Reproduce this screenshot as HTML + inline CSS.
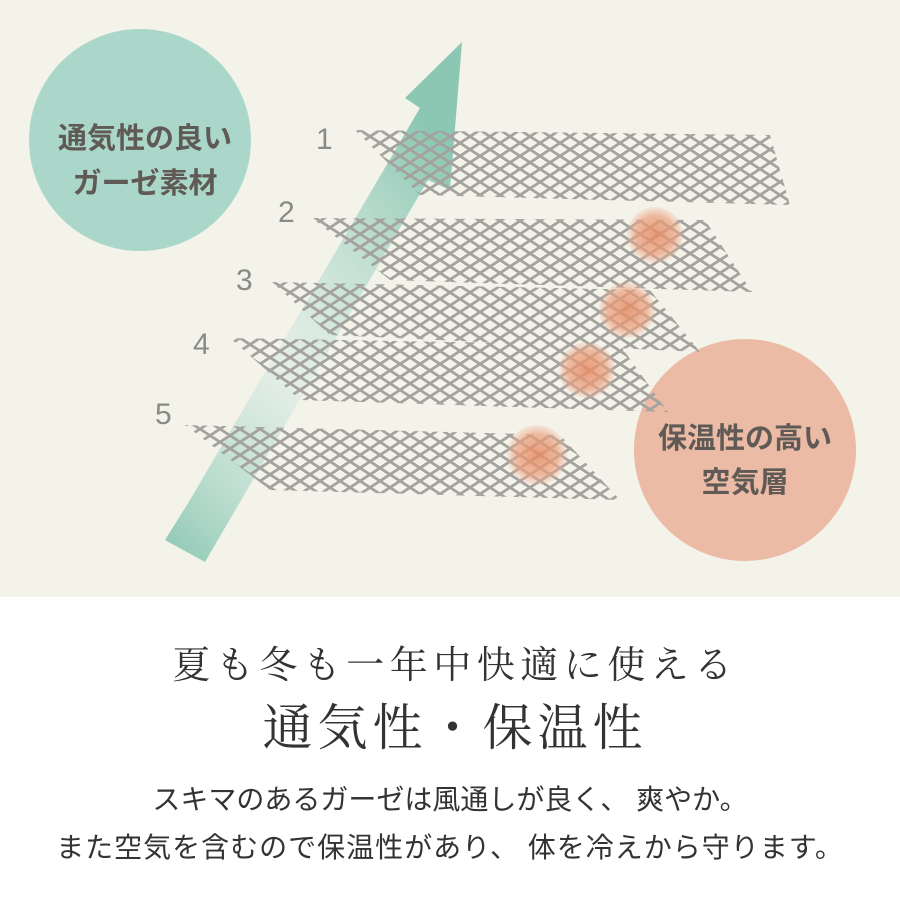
<!DOCTYPE html>
<html><head><meta charset="utf-8"><style>
body{margin:0;width:900px;height:900px;background:#fff;overflow:hidden;position:relative;font-family:"Liberation Sans","Noto Sans CJK JP",sans-serif}
.top{position:absolute;left:0;top:0;width:900px;height:597px;background:#f3f3ea}
svg{position:absolute;left:0;top:0}
.t{position:absolute;left:0;width:900px;text-align:center;color:#333;white-space:nowrap}
</style></head><body>
<div class="top"></div>
<svg width="900" height="600" viewBox="0 0 900 600">
<defs>
<pattern id="m" width="20" height="13" patternUnits="userSpaceOnUse">
<line x1="-1" y1="-0.65" x2="21" y2="13.65" stroke="#a3a29e" stroke-width="2.8"/>
<line x1="-1" y1="13.65" x2="21" y2="-0.65" stroke="#a3a29e" stroke-width="2.8"/>
</pattern>
<linearGradient id="ag" x1="0" y1="1" x2="0.6" y2="0">
<stop offset="0" stop-color="#8cc7b3"/><stop offset="0.45" stop-color="#d6eae2" stop-opacity="0.5"/><stop offset="1" stop-color="#8cc7b3"/>
</linearGradient>
<radialGradient id="o"><stop offset="0" stop-color="#e58a62" stop-opacity="0.85"/><stop offset="0.7" stop-color="#eca07e" stop-opacity="0.7"/><stop offset="1" stop-color="#f0b49a" stop-opacity="0.2"/></radialGradient>
</defs>
<circle cx="140" cy="140" r="111" fill="#abd7ca"/>
<circle cx="745" cy="450" r="111" fill="#ebbba6"/>
<polygon points="165,540 205,562 428,180 450,190 462,42 405,98 420,108 190,500" fill="url(#ag)"/>
<g>
<polygon points="355,130 770,135 790,205 420,195" fill="url(#m)"/>
<polygon points="312,218 705,220 752,292 390,280" fill="url(#m)"/>
<polygon points="272,282 650,290 700,352 330,335" fill="url(#m)"/>
<polygon points="230,338 620,345 668,412 300,400" fill="url(#m)"/>
<polygon points="185,425 560,435 620,500 270,490" fill="url(#m)"/>
</g>
<circle cx="655" cy="235" r="28" fill="url(#o)"/>
<circle cx="627" cy="310" r="28" fill="url(#o)"/>
<circle cx="587" cy="370" r="28" fill="url(#o)"/>
<circle cx="537" cy="455" r="30" fill="url(#o)"/>
<g font-family="Liberation Sans,sans-serif" font-size="30" fill="#8a8a86">
<text x="316" y="149">1</text><text x="278" y="222">2</text><text x="236" y="290">3</text><text x="193" y="354">4</text><text x="155" y="424">5</text>
</g>
<g font-family="Liberation Sans,Noto Sans CJK JP,sans-serif" font-size="29" font-weight="bold" fill="#5f5a55" text-anchor="middle">
<text x="145" y="148">通気性の良い</text><text x="145" y="193">ガーゼ素材</text>
<text x="745" y="448">保温性の高い</text><text x="745" y="492">空気層</text>
</g>
</svg>
<div class="t" style="top:634px;font-size:38px;font-family:'Liberation Serif','Noto Serif CJK SC',serif;letter-spacing:5.5px;padding-left:5px">夏も冬も一年中快適に使える</div>
<div class="t" style="top:688px;font-size:50px;font-family:'Liberation Serif','Noto Serif CJK SC',serif;letter-spacing:5px;padding-left:5px">通気性・保温性</div>
<div class="t" style="top:778px;font-size:28px">スキマのあるガーゼは風通しが良く、 爽やか。</div>
<div class="t" style="top:826px;font-size:28px;letter-spacing:1px">また空気を含むので保温性があり、 体を冷えから守ります。</div>
</body></html>
